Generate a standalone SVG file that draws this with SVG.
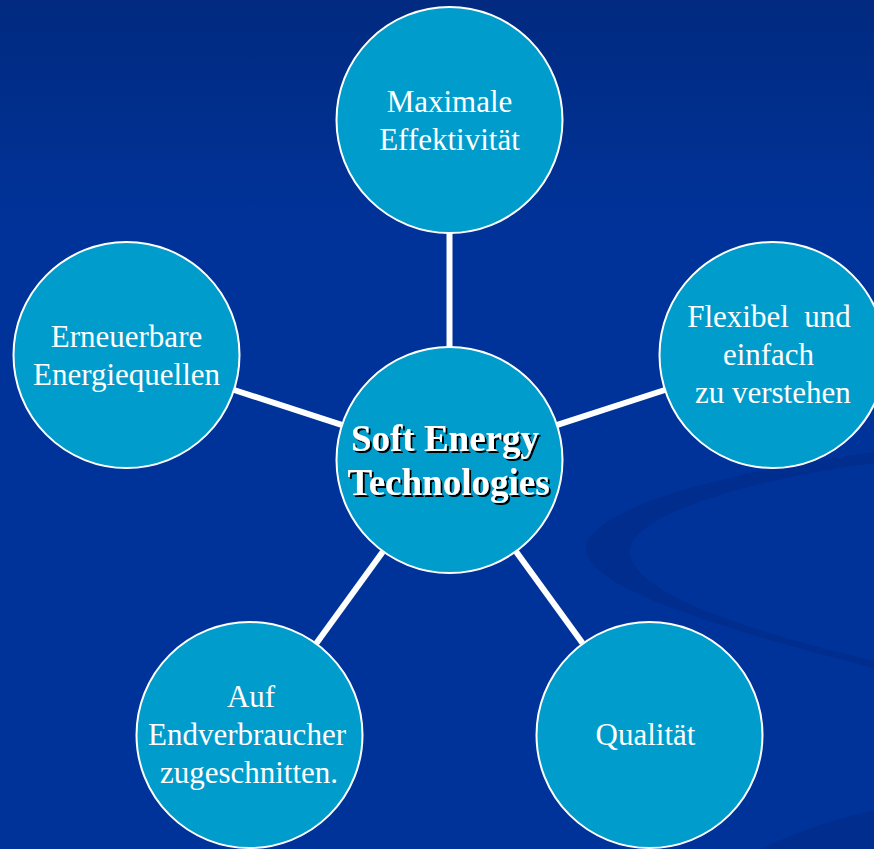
<svg xmlns="http://www.w3.org/2000/svg" width="874" height="849" viewBox="0 0 874 849">
  <defs>
    <linearGradient id="bg" x1="0" y1="0" x2="0" y2="1">
      <stop offset="0" stop-color="#012a80"/>
      <stop offset="0.28" stop-color="#00339a"/>
      <stop offset="1" stop-color="#00339a"/>
    </linearGradient>
    <filter id="hubShadow" x="-10%" y="-30%" width="120%" height="160%">
      <feDropShadow dx="2" dy="2" stdDeviation="0.4" flood-color="#000000" flood-opacity="1"/>
    </filter>
    <style>
      .node { fill: #009ccc; stroke: #ffffff; stroke-width: 2; }
      .link { stroke: #ffffff; stroke-width: 6; fill: none; }
      .label { font-family: "Liberation Serif", "Times New Roman", serif; font-size: 31px; fill: #ffffff; text-anchor: middle; white-space: pre; }
      .hub { font-family: "Liberation Serif", "Times New Roman", serif; font-size: 37px; font-weight: bold; text-anchor: middle; fill: #ffffff; filter: url(#hubShadow); }
      .swoosh { fill: #002d8e; }
    </style>
  </defs>

  <!-- background -->
  <rect x="0" y="0" width="874" height="849" fill="url(#bg)"/>
  <path class="swoosh" d="M 874 452 C 760 468, 610 498, 587 542 C 572 585, 720 628, 874 668 L 874 661 C 745 630, 628 592, 630 550 C 634 512, 760 478, 874 463 Z"/>
  <path class="swoosh" d="M 760 849 C 800 830, 840 818, 874 810 L 874 849 Z"/>

  <!-- connectors -->
  <g id="connectors">
    <line class="link" x1="449.5" y1="347" x2="449.5" y2="233"/>
    <line class="link" x1="557.4" y1="424.9" x2="664.9" y2="390"/>
    <line class="link" x1="341.6" y1="424.9" x2="234.1" y2="390"/>
    <line class="link" x1="516.2" y1="551.8" x2="582.6" y2="643.2"/>
    <line class="link" x1="382.8" y1="551.8" x2="316.4" y2="643.2"/>
  </g>

  <!-- hub -->
  <g id="hub">
    <circle class="node" cx="449.5" cy="460" r="113"/>
    <text class="hub" x="445" y="451">Soft Energy</text>
    <text class="hub" x="448.5" y="495">Technologies</text>
  </g>

  <g id="node-effektivitaet">
    <circle class="node" cx="449.5" cy="120" r="113"/>
    <text class="label" x="449.5" y="112">Maximale</text>
    <text class="label" x="449.5" y="150">Effektivität</text>
  </g>

  <g id="node-flexibel">
    <circle class="node" cx="772.5" cy="355" r="113"/>
    <text class="label" x="769" y="327">Flexibel  und</text>
    <text class="label" x="768.5" y="365">einfach</text>
    <text class="label" x="769" y="403"> zu verstehen</text>
  </g>

  <g id="node-erneuerbar">
    <circle class="node" cx="126.5" cy="355" r="113"/>
    <text class="label" x="126.5" y="347">Erneuerbare</text>
    <text class="label" x="126.5" y="385">Energiequellen</text>
  </g>

  <g id="node-qualitaet">
    <circle class="node" cx="649.5" cy="735" r="113"/>
    <text class="label" x="645.5" y="745">Qualität</text>
  </g>

  <g id="node-endverbraucher">
    <circle class="node" cx="249.5" cy="735" r="113"/>
    <text class="label" x="251" y="707">Auf</text>
    <text class="label" x="247" y="745">Endverbraucher</text>
    <text class="label" x="249" y="783">zugeschnitten.</text>
  </g>
</svg>
